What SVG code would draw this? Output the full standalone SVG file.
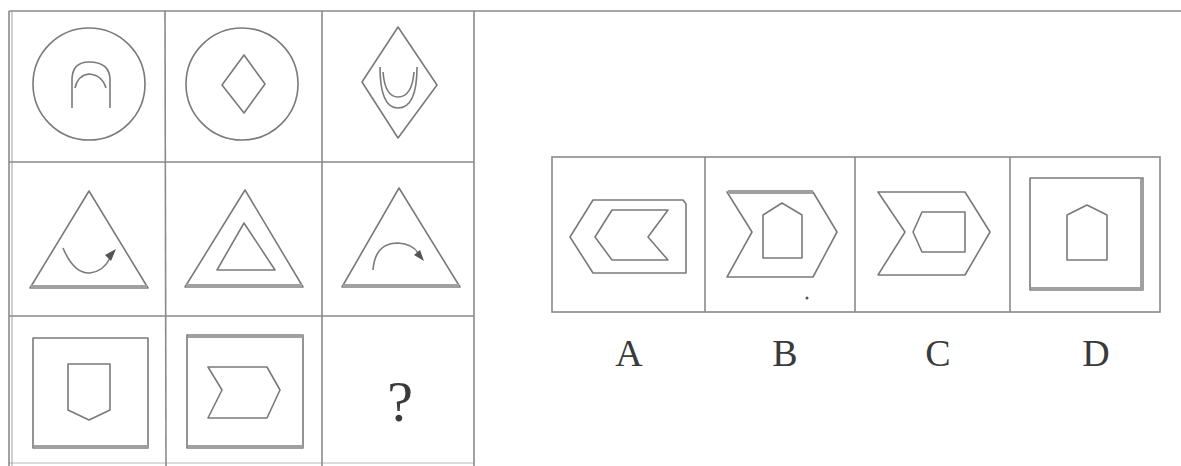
<svg xmlns="http://www.w3.org/2000/svg" width="1181" height="466" viewBox="0 0 1181 466">
<style>
.g{fill:none;stroke:#8a8a8a;stroke-width:1.6}
.s{fill:none;stroke:#7a7a7a;stroke-width:1.6;stroke-linejoin:round}
.t{fill:none;stroke:#a0a0a0;stroke-width:4}
.lbl{font-family:"Liberation Serif",serif;font-size:38px;fill:#3a3a3a;text-anchor:middle}
</style>
<rect width="1181" height="466" fill="#fff"/>
<g id="frame">
<line class="g" x1="9" y1="11" x2="1181" y2="11"/>
<line class="g" x1="9" y1="11" x2="9" y2="466"/>
<line class="g" x1="12" y1="11" x2="12" y2="466" stroke-opacity="0.5"/>
<line class="g" x1="474" y1="11" x2="474" y2="466"/>
<line class="g" x1="165" y1="11" x2="166" y2="466"/>
<line class="g" x1="322" y1="11" x2="322" y2="466"/>
<line class="g" x1="9" y1="162" x2="474" y2="162"/>
<line class="g" x1="9" y1="316" x2="474" y2="316"/>
<line class="g" x1="9" y1="463" x2="474" y2="463" stroke-opacity="0.4"/>
</g>
<g id="c00">
<circle class="s" cx="89" cy="84" r="56"/>
<path class="s" d="M72,108 L72,80 Q72,62 89,62 Q110,62 110,80 L110,108"/>
<path class="s" d="M75,88 Q78,75 89,74 Q102,75 106,88"/>
</g>
<g id="c01">
<circle class="s" cx="242" cy="84" r="56"/>
<polygon class="s" points="244,55 265,84 244,113 222,85"/>
</g>
<g id="c02">
<polygon class="s" points="398,27 437,85 398,138 362,82"/>
<path class="s" d="M380,67 Q380,108 398,108 Q417,108 417,67"/>
<path class="s" d="M383,72 Q385,97 398,97 Q412,97 414,72"/>
</g>
<g id="c10">
<polygon class="s" points="89,191 148,288 30,288"/>
<line class="t" x1="31" y1="287" x2="147" y2="287"/>
<path class="s" d="M63,248 Q74,274 90,273 Q104,271 110,258"/>
<polygon points="116,249 105,255 111,261" fill="#555"/>
</g>
<g id="c11">
<polygon class="s" points="245,190 303,287 185,287"/>
<line class="t" x1="186" y1="286" x2="302" y2="286"/>
<polygon class="s" points="244,223 275,270 217,270"/>
</g>
<g id="c12">
<polygon class="s" points="399,188 460,287 342,287"/>
<line class="t" x1="343" y1="286" x2="459" y2="286"/>
<path class="s" d="M373,270 Q375,243 398,243 Q413,244 418,253"/>
<polygon points="424,261 414,255 420,250" fill="#555"/>
</g>
<g id="c20">
<rect class="s" x="33" y="338" width="115" height="110"/>
<line class="t" x1="34" y1="447" x2="148" y2="447"/>
<polygon class="s" points="68,364 110,364 110,410 89,420 68,410"/>
</g>
<g id="c21">
<rect class="s" x="187" y="335" width="116" height="113"/>
<line class="t" x1="188" y1="447" x2="303" y2="447"/>
<line class="t" x1="188" y1="336" x2="303" y2="336" stroke-width="3"/>
<polygon class="s" points="208,367 267,367 280,390 267,418 208,418 222,390"/>
</g>
<g id="c22">
<text class="lbl" x="400" y="421" style="font-size:58px">?</text>
</g>
<g id="options-frame">
<rect class="g" x="552" y="157" width="608" height="155"/>
<line class="g" x1="705" y1="157" x2="705" y2="312"/>
<line class="g" x1="855" y1="157" x2="855" y2="312"/>
<line class="g" x1="1010" y1="157" x2="1010" y2="312"/>
</g>
<g id="optA">
<polygon class="s" points="570,237 593,200 683,200 686,204 686,273 593,273"/>
<polygon class="s" points="595,237 612,210 668,210 648,237 668,260 612,260"/>
<text class="lbl" x="629" y="366">A</text>
</g>
<g id="optB">
<polygon class="s" points="727,192 813,192 837,232 813,277 727,277 752,232"/>
<line class="t" x1="728" y1="192" x2="813" y2="192"/>
<polygon class="s" points="763,258 763,215 782,203 802,215 802,258"/>
<circle cx="807" cy="298" r="1.5" fill="#555"/>
<text class="lbl" x="785" y="366">B</text>
</g>
<g id="optC">
<polygon class="s" points="878,192 965,192 990,232 965,275 878,275 905,232"/>
<polygon class="s" points="913,232 922,212 965,212 965,252 922,252"/>
<text class="lbl" x="938" y="366">C</text>
</g>
<g id="optD">
<rect class="s" x="1030" y="178" width="113" height="112"/>
<line class="t" x1="1031" y1="289" x2="1143" y2="289"/>
<line class="t" x1="1142" y1="179" x2="1142" y2="290"/>
<polygon class="s" points="1067,260 1067,215 1087,205 1107,215 1107,260"/>
<text class="lbl" x="1096" y="366">D</text>
</g>
</svg>
